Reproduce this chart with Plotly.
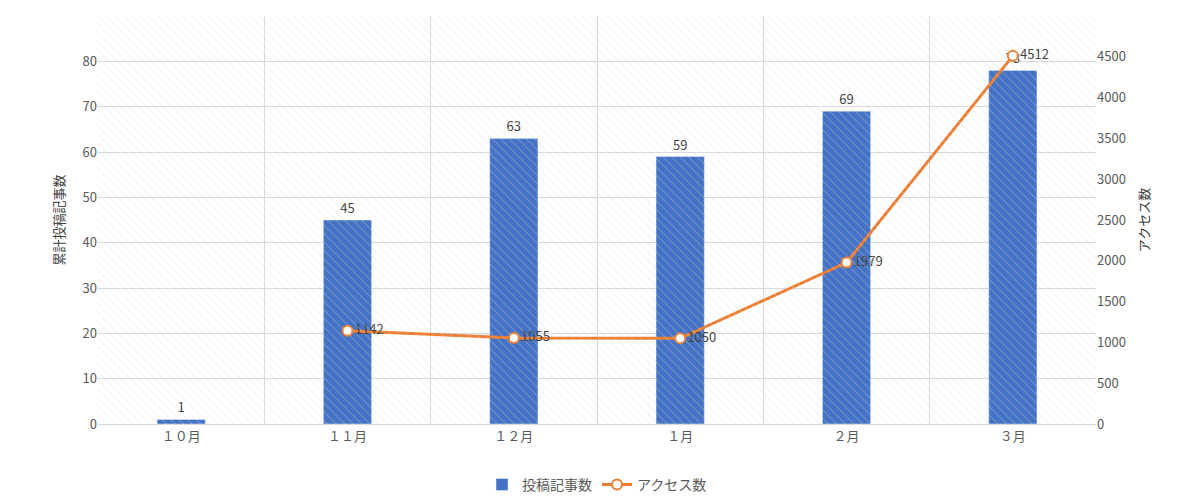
import plotly.graph_objects as go

months = ['１０月', '１１月', '１２月', '１月', '２月', '３月']
posts = [1, 45, 63, 59, 69, 78]
access_months = ['１１月', '１２月', '１月', '２月', '３月']
access = [1142, 1055, 1050, 1979, 4512]

font = 'Noto Sans CJK JP'
fig = go.Figure()

# hatched plot background
fig.add_trace(go.Bar(x=[0.5], y=[1], width=[1], xaxis='x3', yaxis='y3',
                     marker=dict(color='rgba(0,0,0,0)', line=dict(width=0),
                                 pattern=dict(shape='\\', fgcolor='#d9d9d9', size=6, solidity=0.15)),
                     showlegend=False, hoverinfo='skip'))

fig.add_trace(go.Bar(x=months, y=posts, name='投稿記事数', marker_color='#4472c4', width=0.29,
                     text=posts, textposition='outside', textfont=dict(size=13, color='#404040')))
fig.add_trace(go.Scatter(x=access_months, y=access, name='アクセス数', yaxis='y2',
                         mode='lines+markers+text', text=access, textposition='middle right',
                         textfont=dict(size=13, color='#404040'),
                         line=dict(color='#ed7d31', width=3),
                         marker=dict(size=10, color='white', line=dict(color='#ed7d31', width=2))))

fig.update_layout(
    width=1200, height=501, plot_bgcolor='white', paper_bgcolor='white',
    font=dict(family=font, color='#595959', size=13),
    margin=dict(l=90, r=112, t=8, b=73),
    bargap=0.7,
    xaxis=dict(showgrid=True, gridcolor='#d9d9d9', linecolor='#d9d9d9', tickson='boundaries',
               ticks='', tickfont=dict(size=13)),
    yaxis=dict(range=[0, 90], dtick=10, gridcolor='#d9d9d9', zeroline=False,
               title=dict(text='累計投稿記事数', font=dict(size=13, color='#404040')),
               tickfont=dict(size=13)),
    yaxis2=dict(range=[0, 5000], dtick=500, overlaying='y', side='right', showgrid=False,
                zeroline=False, title=dict(text='アクセス数', font=dict(size=13, color='#404040')),
                tickfont=dict(size=13)),
    xaxis3=dict(range=[0, 1], overlaying='x', visible=False),
    yaxis3=dict(range=[0, 1], overlaying='y', visible=False),
    legend=dict(orientation='h', x=0.5, xanchor='center', y=-0.11, yanchor='top',
                font=dict(size=14)),
)
fig.data[0].update(xaxis='x3', yaxis='y3')
fig.write_html('out.html')
